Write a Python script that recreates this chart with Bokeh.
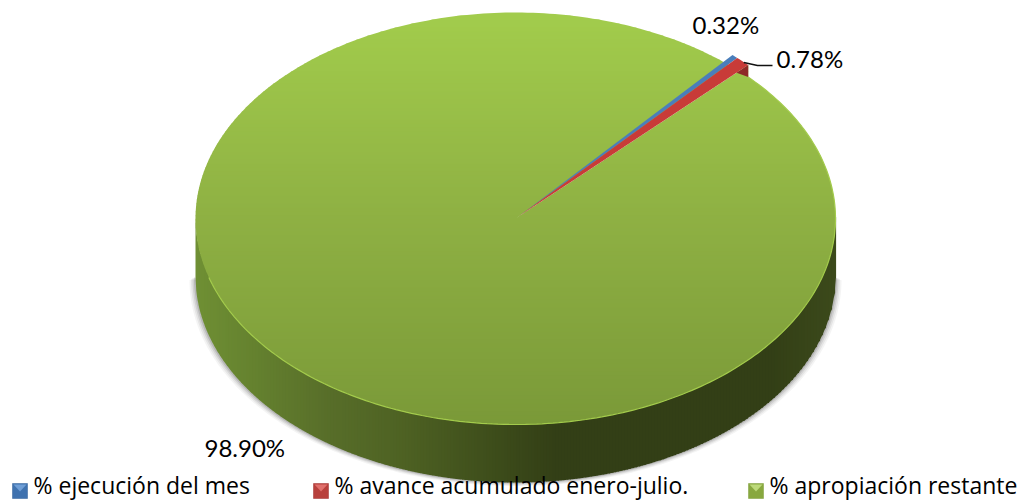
import math
from bokeh.plotting import figure
from bokeh.models import Range1d
from bokeh.core.properties import value
from bokeh.embed import file_html
from bokeh.resources import INLINE

categories = ["% ejecución del mes", "% avance acumulado enero-julio.", "% apropiación restante"]
percentages = [0.32, 0.78, 98.90]
pct_labels = ["0.32%", "0.78%", "98.90%"]

FONT = "Lato"
FS = "24px"
CX, CY, RX, RY, DEPTH, LIFT = 515.0, 218.0, 320.0, 206.0, 58.0, 12.0
START = 42.7
W, H = 1021, 500

p = figure(width=W, height=H, output_backend="svg", toolbar_location=None,
           x_range=Range1d(0, W), y_range=Range1d(H, 0), min_border=0,
           outline_line_color=None, background_fill_color="white")
p.axis.visible = False
p.grid.visible = False


def hx(c):
    return tuple(int(c[i:i + 2], 16) for i in (1, 3, 5))


def ramp(stops, t):
    for (a, ca), (b, cb) in zip(stops, stops[1:]):
        if t <= b:
            f = (t - a) / (b - a) if b > a else 0
            x, y = hx(ca), hx(cb)
            return "#%02x%02x%02x" % tuple(round(x[i] + (y[i] - x[i]) * f) for i in range(3))
    return stops[-1][1]


def rim(deg, lift=0.0):
    a = math.radians(deg)
    return CX + RX * math.sin(a), CY - RY * math.cos(a) - lift


def clip(poly, y0, y1):
    def half(pts, inside, cross):
        out = []
        for i, c in enumerate(pts):
            q = pts[i - 1]
            if inside(c):
                if not inside(q):
                    out.append(cross(q, c))
                out.append(c)
            elif inside(q):
                out.append(cross(q, c))
        return out

    def cr(v):
        return lambda a, b: (a[0] + (b[0] - a[0]) * (v - a[1]) / (b[1] - a[1]), v)
    pts = half(poly, lambda c: c[1] >= y0, cr(y0))
    return half(pts, lambda c: c[1] <= y1, cr(y1)) if pts else []


# slice angles, clockwise from START, from the values
total = sum(percentages)
angles = [START]
for v in percentages:
    angles.append(angles[-1] + 360.0 * v / total)

# soft shadow round the body
for grow, alpha in [(6, 0.06), (4.5, 0.08), (3, 0.12), (1.5, 0.18)]:
    xs, ys = [], []
    for i in range(181):
        d = 90 + i
        x, y = rim(d)
        xs.append(x + (x - CX) / RX * grow)
        ys.append(y + DEPTH + grow * 0.6)
    p.patch(xs, ys, fill_color="#404040", fill_alpha=alpha, line_color=None)

# side wall, dark to the right
wall_stops = [(0.0, "#6f8f34"), (0.085, "#65822f"), (0.21, "#576d29"), (0.32, "#4e6223"),
              (0.477, "#3c4b1a"), (0.56, "#333f16"), (0.9, "#333f16"), (1.0, "#3c4a1b")]
step = 3.0
x = CX - RX
while x < CX + RX:
    x2 = min(x + step, CX + RX)
    pts = []
    n = 4
    for k in range(n + 1):
        xx = x + (x2 - x) * k / n
        pts.append((xx, CY + RY * math.sqrt(max(0, 1 - ((xx - CX) / RX) ** 2))))
    top = [(a, b - 2) for a, b in pts]
    bottom = [(a, b + DEPTH) for a, b in reversed(pts)]
    xs = [q[0] for q in top + bottom]
    ys = [q[1] for q in top + bottom]
    xs = [v + 0.6 if i in (n, n + 1) else v for i, v in enumerate(xs)]
    c = ramp(wall_stops, (x - CX + RX) / (2 * RX))
    p.patch(xs, ys, fill_color=c, line_color=None)
    x = x2

# green slice: vertical gradient made of thin bands
steps = 360
green_poly = [(CX, CY), rim(angles[2], LIFT)]
for i in range(steps + 1):
    green_poly.append(rim(angles[2] + (angles[3] - angles[2]) * i / steps))
top_stops = [(0.0, "#a2cc4c"), (0.5, "#8eb043"), (1.0, "#7a9938")]
band = 4.0
y = CY - RY - 1
while y < CY + RY + 1:
    pts = clip(green_poly, y, y + band + 0.7)
    if len(pts) > 2:
        c = ramp(top_stops, (y - CY + RY) / (2 * RY))
        p.patch([q[0] for q in pts], [q[1] for q in pts], fill_color=c, line_color=None)
    y += band

# lighter rim along the front of the top face
arc = [rim(angles[2] + (angles[3] - angles[2]) * i / steps) for i in range(steps + 1)]
p.line([q[0] for q in arc[:210]], [q[1] for q in arc[:210]], line_color="#a3cb4c", line_width=1.2)

# blue and red slices, lifted at the rim
face = ["#4a7ebb", "#c83b38"]
for k in (0, 1):
    xs, ys = [CX + 3], [CY - 2]
    for i in range(7):
        qx, qy = rim(angles[k] + (angles[k + 1] - angles[k]) * i / 6, LIFT)
        xs.append(qx)
        ys.append(qy)
    p.patch(xs, ys, fill_color=face[k], line_color=None)

# cut face of the red slice
ex, ey = rim(angles[2], LIFT)
ix = CX + (ex - CX) * 0.95
iy = CY + (ey - CY) * 0.95
p.patch([ix, ex, ex], [iy, ey, ey + LIFT], fill_color="#8e2a27", line_color=None)

# leader line for the red label
lx, ly = rim((angles[1] + angles[2]) / 2, LIFT)
p.line([lx + 1, 757, 772], [ly + 1, 65, 65], line_color="#111111", line_width=1.5)

# value labels
label_x = [692, 776, 204]
label_y = [24, 58, 447]
p.text(label_x, label_y, text=pct_labels, text_font=value(FONT), text_font_size=FS,
       text_color="#000000", text_baseline="middle", text_align="left")

# legend
swatch_x = [12, 313, 748]
swatch_dark = ["#2f5f98", "#a12f2c", "#7d9c37"]
swatch_base = ["#3f72af", "#b8403c", "#88a83f"]
swatch_light = ["#6f9ed6", "#e0706c", "#bcd97a"]
S = 15
for sx, d, b, l in zip(swatch_x, swatch_dark, swatch_base, swatch_light):
    p.patch([sx, sx + S, sx + S, sx], [483, 483, 498, 498], fill_color=b, line_color=d, line_width=0.5)
    p.patch([sx + 1, sx + S - 1, sx + S / 2], [484, 484, 491], fill_color=l, line_color=None)
p.text([v + 21 for v in swatch_x], [500, 500, 500], text=categories, text_font=value("Open Sans"),
       text_font_size="23px", text_color="#000000", text_baseline="bottom", text_align="left")

open("out.html", "w").write(file_html(p, INLINE))
